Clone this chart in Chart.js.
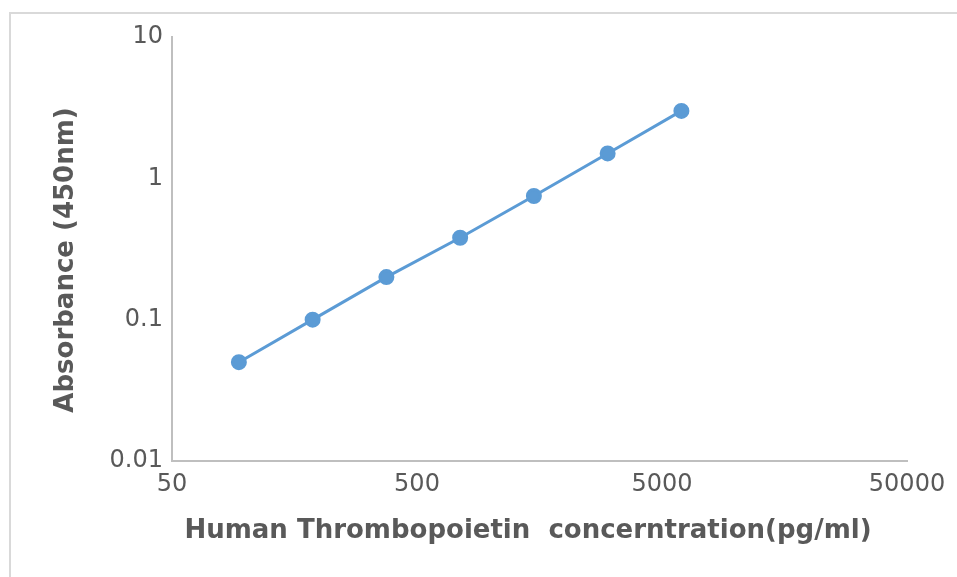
<!DOCTYPE html>
<html>
<head>
<meta charset="utf-8">
<script src="https://cdn.jsdelivr.net/npm/chart.js@4"></script>
<style>
  html, body { margin: 0; padding: 0; background: #fff; overflow: hidden; }
  #frame { position: absolute; left: 9px; top: 12px; width: 948px; height: 565px;
           border-top: 2px solid #d9d9d9; border-left: 2px solid #d9d9d9; box-sizing: border-box; }
  #wrap { position: absolute; left: 0; top: 0; width: 957px; height: 577px; }
</style>
</head>
<body>
<div id="frame"></div>
<div id="wrap"><canvas id="myChart"></canvas></div>
<script>
// concentration (pg/ml) and absorbance values
let concentration = [93.75, 187.5, 375, 750, 1500, 3000, 6000];
let absorbance = [0.05, 0.1, 0.2, 0.38, 0.75, 1.5, 3.0];

let xTicks = [50, 500, 5000, 50000];
let yTicks = [0.01, 0.1, 1, 10];

let xTitle = 'Human Thrombopoietin  concerntration(pg/ml)';
let yTitle = 'Absorbance (450nm)';

let points = concentration.map((c, i) => ({ x: c, y: absorbance[i] }));

let textColor = '#595959';
let font = 'DejaVu Sans';

// draws the axis titles where the original has them
const axisTitles = {
    id: 'axisTitles',
    afterDraw(chart) {
        const ctx = chart.ctx;
        ctx.save();
        ctx.fillStyle = textColor;
        ctx.font = 'bold 26px "' + font + '"';
        ctx.textAlign = 'center';
        ctx.textBaseline = 'middle';
        ctx.fillText(xTitle, 528, 531);
        ctx.translate(66, 260);
        ctx.rotate(-Math.PI / 2);
        ctx.fillText(yTitle, 0, 0);
        ctx.restore();
    }
};

new Chart(document.getElementById('myChart'), {
    type: 'line',
    data: {
        datasets: [{
            data: points,
            borderColor: '#5b9bd5',
            backgroundColor: '#5b9bd5',
            borderWidth: 3,
            pointRadius: 6.5,
            pointHoverRadius: 6.5,
            tension: 0
        }]
    },
    options: {
        responsive: true,
        maintainAspectRatio: false,
        animation: false,
        layout: { padding: { top: 37, right: 50, left: 0, bottom: 0 } },
        plugins: {
            legend: { display: false },
            tooltip: { enabled: false }
        },
        scales: {
            x: {
                type: 'logarithmic',
                min: 50,
                max: 50000,
                afterBuildTicks: (s) => { s.ticks = xTicks.map(v => ({ value: v })); },
                afterFit: (s) => { s.height = 116; },
                grid: { display: false, drawTicks: false },
                border: { color: '#bfbfbf', width: 2 },
                ticks: {
                    color: textColor,
                    font: { family: font, size: 24 },
                    padding: 9,
                    maxRotation: 0,
                    autoSkip: false,
                    callback: (v) => String(v)
                }
            },
            y: {
                type: 'logarithmic',
                min: 0.01,
                max: 10,
                afterBuildTicks: (s) => { s.ticks = yTicks.map(v => ({ value: v })); },
                afterFit: (s) => { s.width = 172; },
                grid: { display: false, drawTicks: false },
                border: { color: '#bfbfbf', width: 2 },
                ticks: {
                    color: textColor,
                    font: { family: font, size: 24 },
                    padding: 9,
                    autoSkip: false,
                    callback: (v) => String(v)
                }
            }
        }
    },
    plugins: [axisTitles]
});
</script>
</body>
</html>
